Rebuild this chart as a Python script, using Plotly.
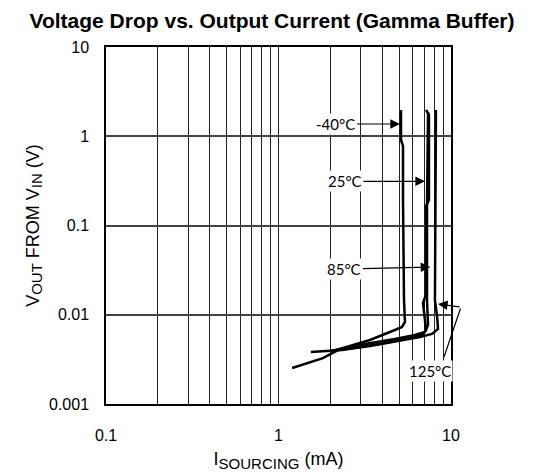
import plotly.graph_objects as go

# curves (mA, V)
t_m40_x = [1.2, 1.81, 2.27, 3.39, 4.73, 5.2, 5.41, 5.34, 5.27, 5.27, 5.13, 5.13]
t_m40_y = [0.00253, 0.00327, 0.00413, 0.00521, 0.00675, 0.0073, 0.0083, 0.0146, 0.193, 0.778, 0.908, 1.97]

t_25_x = [1.99, 2.97, 4.43, 5.78, 6.79, 7.17, 6.98, 6.88, 7.17, 7.17, 7.45, 7.45, 7.17]
t_25_y = [0.00393, 0.00436, 0.00495, 0.0055, 0.00593, 0.00675, 0.0113, 0.0135, 0.0171, 0.165, 0.193, 1.73, 1.97]

t_85_x = [2.13, 3.17, 4.73, 6.18, 7.06, 7.36, 7.26, 7.26, 7.36]
t_85_y = [0.00403, 0.0047, 0.00535, 0.00593, 0.0064, 0.00767, 0.0146, 0.165, 1.87]

t_125_x = [1.54, 2.33, 3.39, 5.06, 6.61, 7.76, 8.41, 8.3, 8.07, 8.18]
t_125_y = [0.00383, 0.00403, 0.00447, 0.00508, 0.00564, 0.00609, 0.00692, 0.00968, 0.0146, 1.97]

y_ticks = [10, 1, 0.1, 0.01, 0.001]
y_labels = ["10", "1", "0.1", "0.01", "0.001"]
x_ticks = [0.1, 1, 10]
x_labels = ["0.1", "1", "10"]
x_minor = [m * d for d in (0.1, 1) for m in range(2, 10)]

# label text, arrow tip (log10 data coords), tail offset in px
labels = [
    ("-40°C", 0.704, 0.137, -64, 0),
    ("25°C", 0.849, -0.505, -80, 0),
    ("85°C", 0.880, -1.465, -86, 2),
]

lab_font = dict(family="Lato", size=15, color="black")

fig = go.Figure()
for xs, ys in [(t_m40_x, t_m40_y), (t_25_x, t_25_y), (t_85_x, t_85_y), (t_125_x, t_125_y)]:
    fig.add_trace(go.Scatter(x=xs, y=ys, mode="lines",
                             line=dict(color="black", width=2.5),
                             showlegend=False, hoverinfo="skip"))

for txt, ax_, ay_, dx, dy in labels:
    fig.add_annotation(x=ax_, y=ay_, xref="x", yref="y", text=txt,
                       showarrow=True, ax=dx, ay=dy, arrowhead=2, arrowsize=1.6,
                       arrowwidth=1.2, arrowcolor="black", bgcolor="white",
                       font=lab_font)

# 125°C label with a bent leader
fig.add_annotation(x=0.878, y=-2.63, xref="x", yref="y", text="125°C",
                   showarrow=False, bgcolor="white", font=lab_font)
fig.add_annotation(x=0.9594, y=-2.473, xref="x", yref="y", text="",
                   showarrow=True, ax=17, ay=-50, arrowhead=0, arrowwidth=1.2,
                   arrowcolor="black")
fig.add_annotation(x=0.9246, y=-1.88, xref="x", yref="y", text="",
                   showarrow=True, ax=23, ay=3, arrowhead=2, arrowsize=1.6,
                   arrowwidth=1.2, arrowcolor="black")

sub = "<sub><span style='font-size:15px'>%s</span></sub>"

fig.update_layout(
    width=528, height=464,
    margin=dict(l=98, r=85, t=39, b=68),
    paper_bgcolor="white", plot_bgcolor="white",
    font=dict(family="Liberation Sans, Arial", size=16, color="black"),
    title=dict(text="<b>Voltage Drop vs. Output Current (Gamma Buffer)</b>",
               x=0.5, xanchor="center", y=0.972, yanchor="middle",
               yref="container", font=dict(size=21, color="black")),
)
fig.update_xaxes(type="log", range=[-1, 1], tickvals=x_ticks, ticktext=x_labels,
                 showgrid=True, gridcolor="#222", gridwidth=1,
                 minor=dict(tickvals=x_minor, showgrid=True, gridcolor="#222", gridwidth=1),
                 showline=True, linecolor="black", linewidth=1.5, mirror=True,
                 ticks="", ticklabelstandoff=16, zeroline=False, automargin=False,
                 title=dict(text="I" + sub % "SOURCING" + " (mA)", standoff=15,
                            font=dict(size=18)))
fig.update_yaxes(type="log", range=[-3, 1], tickvals=y_ticks, ticktext=y_labels,
                 showgrid=True, gridcolor="#444", gridwidth=1.5,
                 showline=True, linecolor="black", linewidth=1.5, mirror=True,
                 ticks="", ticklabelstandoff=12, zeroline=False, automargin=False,
                 title=dict(text="V" + sub % "OUT" + " FROM V" + sub % "IN" + " (V)",
                            standoff=5, font=dict(size=18)))

fig.write_html("out.html")
